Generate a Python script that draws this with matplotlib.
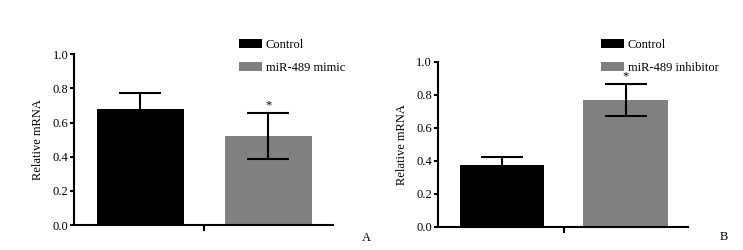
import matplotlib
matplotlib.use("Agg")
import matplotlib.pyplot as plt

plt.rcParams['font.family'] = ['Liberation Serif', 'DejaVu Serif']

groups = ["Control", "miR-489 mimic"]
values_a = [0.68, 0.52]
errors_a = [0.095, 0.135]
groups_b = ["Control", "miR-489 inhibitor"]
values_b = [0.375, 0.765]
errors_b = [0.05, 0.097]
sig = [False, True]
yticks = [0.0, 0.2, 0.4, 0.6, 0.8, 1.0]
colors = ["#000000", "#808080"]

fig = plt.figure(figsize=(7.43, 2.5), dpi=100)
axA = fig.add_axes([0.0996, 0.10, 0.3484, 0.683])
axB = fig.add_axes([0.589, 0.0932, 0.337, 0.660])

def draw(ax, names, vals, errs, legend_xy, panel, panel_xy):
    bars = []
    for i, (n, v, e, c) in enumerate(zip(names, vals, errs, colors)):
        b = ax.bar(i, v, width=0.685, color=c, label=n, zorder=2)
        bars.append(b)
        ax.errorbar(i, v, yerr=e, fmt='none', ecolor='black', elinewidth=1.5,
                    capsize=15, capthick=1.5, zorder=3)
        if sig[i]:
            ax.text(i, v + e + 0.01, "*", ha='center', va='bottom', fontsize=9)
    ax.set_xlim(-0.52, 1.505)
    ax.set_ylim(0, 1.0)
    ax.set_yticks(yticks)
    ax.set_yticklabels([f"{t:.1f}" for t in yticks], fontsize=9)
    ax.set_xticks([0.5])
    ax.set_xticklabels([""])
    ax.spines['top'].set_visible(False)
    ax.spines['right'].set_visible(False)
    ax.spines['left'].set_linewidth(1.5)
    ax.spines['bottom'].set_linewidth(1.5)
    ax.tick_params(axis='y', length=3, width=1.5, pad=1)
    ax.tick_params(axis='x', length=4, width=1.5)
    ax.set_ylabel("Relative mRNA", fontsize=9, labelpad=6)
    ax.legend(handles=bars, labels=names, loc='upper left', bbox_to_anchor=legend_xy,
              bbox_transform=fig.transFigure, frameon=False, fontsize=9,
              handlelength=1.8, handleheight=0.75, handletextpad=0.35,
              labelspacing=0.9, borderpad=0, borderaxespad=0)
    fig.text(panel_xy[0], panel_xy[1], panel, fontsize=9, ha='left', va='center')

draw(axA, groups, values_a, errors_a, (0.3217, 0.845), "A", (0.487, 0.048))
draw(axB, groups_b, values_b, errors_b, (0.809, 0.845), "B", (0.968, 0.052))

fig.savefig("out.png", dpi=100)
